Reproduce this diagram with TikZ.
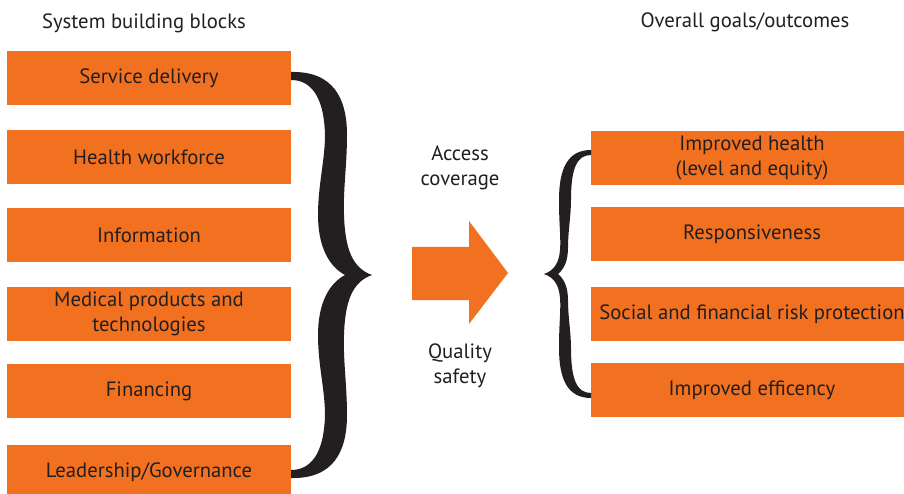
\documentclass[tikz,border=0pt]{standalone}
\usepackage{fontspec}
\setmainfont{PT Sans}
\definecolor{orng}{HTML}{F27121}
\definecolor{ink}{HTML}{231F20}
\begin{document}
\begin{tikzpicture}[x=1pt,y=-1pt,
  box/.style={fill=orng, inner sep=0pt, minimum height=54pt, align=center, text=ink, font=\fontsize{20.7}{25.5}\selectfont},
  lbox/.style={box, minimum width=284pt},
  rbox/.style={box, minimum width=322pt},
  title/.style={text=ink, font=\fontsize{20.7}{25}\selectfont, inner sep=0pt},
  lbl/.style={text=ink, font=\fontsize{20.7}{25.5}\selectfont, align=center, inner sep=0pt}]
\useasboundingbox (0,0) rectangle (904,494);
\clip (0,0) rectangle (904,494);
\fill[white] (0,0) rectangle (904,494);
% titles
\node[title] (t1) at (144,23) {System building blocks};
\node[title] (t2) at (745,22) {Overall goals/outcomes};
% left boxes
\node[lbox] (b1) at (149,78) {Service delivery};
\node[lbox] (b2) at (149,157) {Health workforce};
\node[lbox] (b3) at (149,235) {Information};
\node[lbox] (b4) at (149,314) {Medical products and\\technologies};
\node[lbox] (b5) at (149,391) {Financing};
\node[lbox] (b6) at (149,472) {Leadership/Governance};
% right boxes
\node[rbox] (g1) at (752,158) {Improved health\\(level and equity)};
\node[rbox] (g2) at (752,234) {Responsiveness};
\node[rbox] (g3) at (752,314) {Social and financial risk protection};
\node[rbox] (g4) at (752,390) {Improved efficency};
% middle labels
\node[lbl] (acc) at (460,168) {Access\\coverage};
\node[lbl] (qual) at (460,366) {Quality\\safety};
% arrow
\fill[orng] (412,247) -- (469,247) -- (469,221) -- (508,273) -- (469,324) -- (469,300) -- (412,300) -- cycle;
% big brace (right-facing)
\foreach \s/\m in {1/0,-1/550}{
\begin{scope}[shift={(0,\m)}, yscale=\s]
\fill[ink] (291,72) .. controls (333,71) and (347,98) .. (347,135)
  .. controls (347,165) and (343,190) .. (344,215)
  .. controls (345,248) and (352,268) .. (372,275)
  -- (345,275)
  .. controls (328,266) and (318,245) .. (318,215)
  .. controls (318,185) and (325,160) .. (325,135)
  .. controls (324,95) and (310,80) .. (291,80) -- cycle;
\end{scope}}
% small brace (left-facing)
\foreach \s/\m in {1/0,-1/548}{
\begin{scope}[shift={(0,\m)}, yscale=\s]
\fill[ink] (591,150) .. controls (568,150) and (559,168) .. (559,200)
  .. controls (559,225) and (561,238) .. (560,250)
  .. controls (559,264) and (553,271) .. (544,274)
  -- (558,274)
  .. controls (565,268) and (568,260) .. (568,247)
  .. controls (568,232) and (571,215) .. (571,200)
  .. controls (571,168) and (577,155) .. (591,155) -- cycle;
\end{scope}}
\end{tikzpicture}
\end{document}
